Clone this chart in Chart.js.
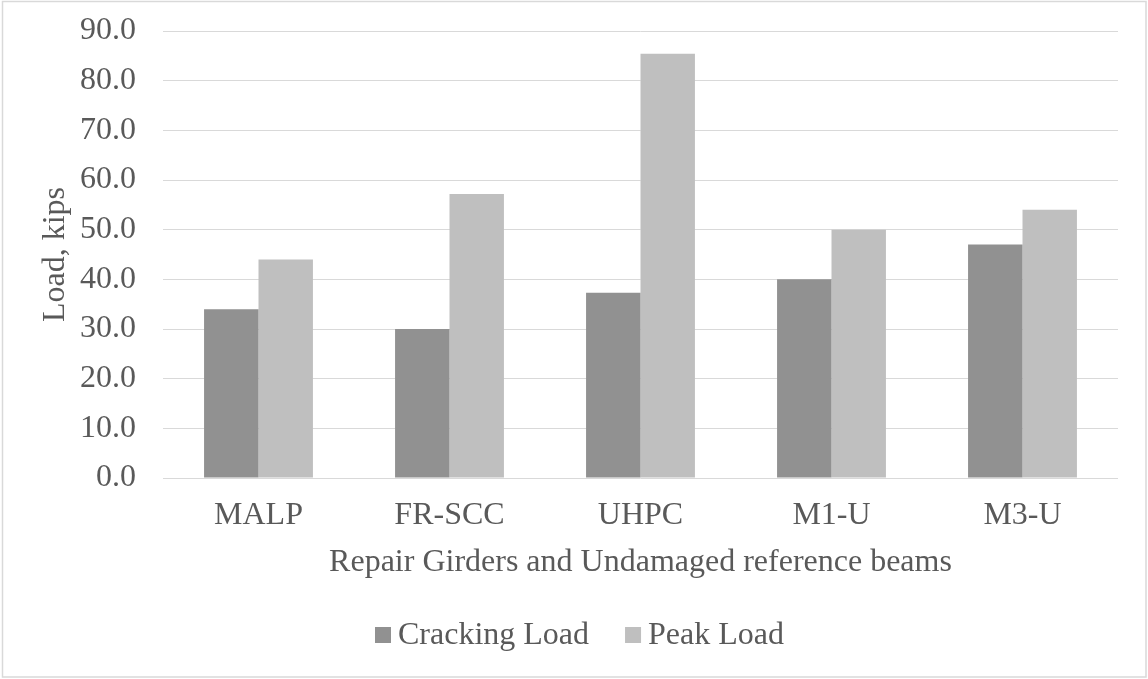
<!DOCTYPE html>
<html>
<head>
<meta charset="utf-8">
<title>Cracking and Peak Load</title>
<script src="https://cdn.jsdelivr.net/npm/chart.js@4/dist/chart.umd.min.js"></script>
<style>
  html, body { margin: 0; padding: 0; background: #ffffff; }
  canvas { display: block; }
</style>
</head>
<body>
<canvas id="chart" width="1148" height="679"></canvas>
<script>
// Girder labels along the x axis
const categories = ['MALP', 'FR-SCC', 'UHPC', 'M1-U', 'M3-U'];
// Loads in kips
const crackingLoad = [34.0, 30.0, 37.3, 40.0, 47.0];
const peakLoad = [44.0, 57.2, 85.4, 50.0, 54.0];
// Series names
const seriesNames = ['Cracking Load', 'Peak Load'];
// Axis titles
const xTitle = 'Repair Girders and Undamaged reference beams';
const yTitle = 'Load, kips';

const FONT = '"Liberation Serif", "Times New Roman", serif';
const TEXT = '#595959';
const GRID = '#d9d9d9';

// White page with a thin light-grey frame around the whole chart
const framePlugin = {
  id: 'frame',
  beforeDraw(chart) {
    const ctx = chart.ctx;
    ctx.save();
    ctx.fillStyle = '#ffffff';
    ctx.fillRect(0, 0, chart.width, chart.height);
    ctx.strokeStyle = GRID;
    ctx.lineWidth = 1.5;
    ctx.strokeRect(2.5, 1.5, chart.width - 4.5, chart.height - 3.5);
    ctx.restore();
  }
};

// Compact legend row: small square swatch, tight gap, then the series name
const legendRow = {
  id: 'legendRow',
  afterDraw(chart) {
    const ctx = chart.ctx;
    const box = 16, gapText = 7, gapItem = 36;
    const centerX = 579.5, midY = 635;
    ctx.save();
    ctx.font = '32px ' + FONT;
    ctx.textBaseline = 'middle';
    ctx.textAlign = 'left';
    const items = chart.data.datasets.map(ds => ({
      text: ds.label, color: ds.backgroundColor, w: ctx.measureText(ds.label).width
    }));
    let total = 0;
    items.forEach((it, i) => { total += box + gapText + it.w + (i ? gapItem : 0); });
    let x = centerX - total / 2;
    items.forEach((it, i) => {
      if (i) x += gapItem;
      ctx.fillStyle = it.color;
      ctx.fillRect(x, midY - box / 2, box, box);
      x += box + gapText;
      ctx.fillStyle = TEXT;
      ctx.fillText(it.text, x, midY + 1);
      x += it.w;
    });
    ctx.restore();
  }
};

new Chart(document.getElementById('chart'), {
  type: 'bar',
  data: {
    labels: categories,
    datasets: [
      { label: seriesNames[0], data: crackingLoad, backgroundColor: '#919191', borderWidth: 0 },
      { label: seriesNames[1], data: peakLoad, backgroundColor: '#bfbfbf', borderWidth: 0 }
    ]
  },
  options: {
    responsive: false,
    animation: false,
    devicePixelRatio: 1,
    layout: { padding: { left: 0, right: 30, top: 31, bottom: 73 } },
    datasets: { bar: { categoryPercentage: 0.57, barPercentage: 1.0 } },
    plugins: {
      tooltip: { enabled: false },
      legend: { display: false }
    },
    scales: {
      x: {
        grid: { display: false, drawTicks: false },
        border: { display: false },
        ticks: { color: TEXT, font: { family: FONT, size: 32 }, padding: 18, maxRotation: 0 },
        title: {
          display: true,
          text: xTitle,
          color: TEXT,
          font: { family: FONT, size: 32 },
          padding: { top: 0, bottom: 24 }
        },
        afterFit(scale) {
          scale.height = 128;
          scale.paddingLeft = 0;
          scale.paddingRight = 0;
        }
      },
      y: {
        min: 0,
        max: 90,
        grid: { color: GRID, lineWidth: 1, drawTicks: false },
        border: { display: false },
        ticks: {
          stepSize: 10,
          color: TEXT,
          font: { family: FONT, size: 32 },
          padding: 27,
          callback: (v) => Number(v).toFixed(1)
        },
        title: {
          display: true,
          text: yTitle,
          color: TEXT,
          font: { family: FONT, size: 32 },
          padding: { top: 36, bottom: 0 }
        },
        afterFit(scale) {
          scale.width = 163;
          scale.paddingTop = 0;
          scale.paddingBottom = 0;
        }
      }
    }
  },
  plugins: [framePlugin, legendRow]
});
</script>
</body>
</html>
